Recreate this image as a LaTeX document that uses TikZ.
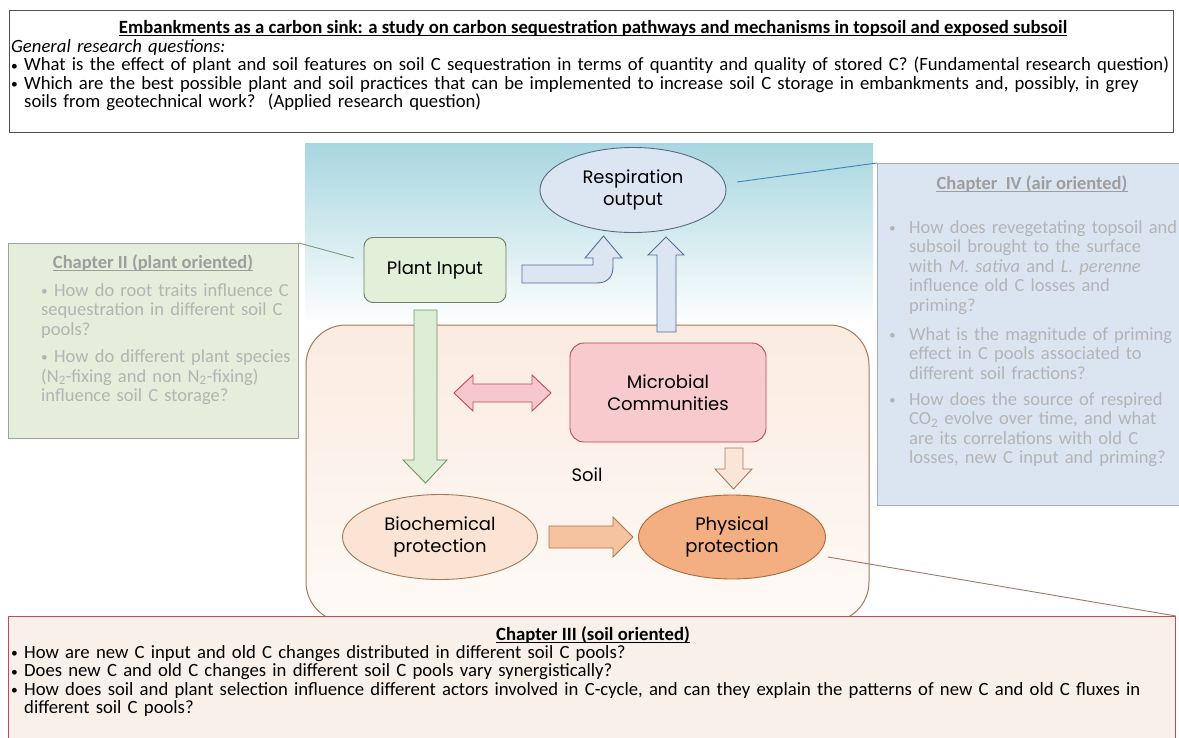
\documentclass[tikz,border=0pt]{standalone}
\usepackage{fontspec}
\usepackage{graphicx}
\setmainfont{Carlito}
\newfontfamily\gothic{Poppins}
\usetikzlibrary{shapes.geometric,calc}
\definecolor{topbord}{RGB}{80,80,80}
\definecolor{ctwofill}{RGB}{228,238,218}
\definecolor{ctwobord}{RGB}{160,165,155}
\definecolor{cfourfill}{RGB}{219,229,241}
\definecolor{cfourbord}{RGB}{165,175,190}
\definecolor{fadetxt}{RGB}{180,180,180}
\definecolor{fadetitle}{RGB}{158,158,158}
\definecolor{cthreefill}{RGB}{250,240,234}
\definecolor{cthreebord}{RGB}{200,70,90}
\definecolor{skytop}{RGB}{168,214,224}
\definecolor{soiltop}{RGB}{251,235,224}
\definecolor{soilbot}{RGB}{253,250,247}
\definecolor{soilbord}{RGB}{165,120,95}
\definecolor{plantfill}{RGB}{226,239,217}
\definecolor{plantbord}{RGB}{110,125,100}
\definecolor{respfill}{RGB}{220,230,242}
\definecolor{respbord}{RGB}{90,105,130}
\definecolor{microfill}{RGB}{247,202,205}
\definecolor{microbord}{RGB}{190,70,85}
\definecolor{biofill}{RGB}{251,228,212}
\definecolor{biobord}{RGB}{160,120,90}
\definecolor{physfill}{RGB}{243,175,130}
\definecolor{physbord}{RGB}{170,105,60}
\definecolor{garrowfill}{RGB}{222,238,214}
\definecolor{garrowbord}{RGB}{110,150,95}
\definecolor{barrowfill}{RGB}{220,230,242}
\definecolor{barrowbord}{RGB}{80,110,150}
\definecolor{parrowfill}{RGB}{246,200,205}
\definecolor{parrowbord}{RGB}{195,70,90}
\definecolor{oarrowfill}{RGB}{245,195,160}
\definecolor{oarrowbord}{RGB}{175,115,70}
\definecolor{darrowfill}{RGB}{251,229,214}
\definecolor{darrowbord}{RGB}{160,125,95}
\definecolor{linegreen}{RGB}{130,150,120}
\definecolor{lineblue}{RGB}{60,130,190}
\definecolor{linebrown}{RGB}{160,120,100}
\newcommand{\bodyfs}{\fontsize{18.7}{18.6}\selectfont}
\newcommand{\chapfs}{\fontsize{18.5}{19.5}\selectfont}
\newcommand{\gfs}{\gothic\fontsize{18}{22}\selectfont}
\newcommand{\dotb}{\raisebox{0.6pt}{\scalebox{0.72}{\textbullet}}}
\newlength{\bind}
\newcommand{\bitem}[1]{\noindent\makebox[\bind][l]{\dotb}\parbox[t]{\dimexpr\hsize-\bind\relax}{\raggedright #1}\par}
\newcommand{\bmark}{\makebox[13pt][l]{\dotb}}
\tikzset{
  frame/.style={line width=0.9pt, anchor=north west, inner sep=0pt},
  txtblk/.style={anchor=north west, inner sep=0pt},
  ttl/.style={anchor=base, inner sep=0pt},
  uline/.style={line width=0.9pt},
  gnode/.style={font=\gfs, align=center, line width=0.9pt, inner sep=0pt},
  blockarrow/.style={line width=0.9pt, line join=miter},
  callout/.style={line width=0.9pt}
}
\begin{document}
\begin{tikzpicture}[x=1pt,y=-1pt]
\useasboundingbox (0,0) rectangle (1179,737);
\fill[white] (0,0) rectangle (1179,737);

% ---------- top box
\node[frame, draw=topbord, fill=white, minimum width=1164pt, minimum height=122pt] (topbox) at (9,10) {};
\node[ttl, font=\bodyfs\bfseries] (toptitle) at (593,33)
  {Embankments as a carbon sink: a study on carbon sequestration pathways and mechanisms in topsoil and exposed subsoil};
\draw[uline] ([yshift=-2.6pt]toptitle.base west) -- ([yshift=-2.6pt]toptitle.base east);
\node[txtblk, text width=1166pt, font=\bodyfs] (topbody) at (11,39)
  {\setlength{\bind}{13pt}\noindent\textit{General research questions:}\par
   \bitem{What is the effect of plant and soil features on soil C sequestration in terms of quantity and quality of stored C? (Fundamental research question)}
   \bitem{Which are the best possible plant and soil practices that can be implemented to increase soil C storage in embankments and, possibly, in grey\\ soils from geotechnical work?\ \ (Applied research question)}};

% ---------- sky and soil
\shade[top color=skytop, bottom color=white] (305,143) rectangle (873,325);
\draw[soilbord, line width=1pt, rounded corners=40pt, top color=soiltop, bottom color=soilbot] (306,325) rectangle (869,622);

% ---------- chapter II
\node[frame, draw=ctwobord, fill=ctwofill, minimum width=290pt, minimum height=195pt] (ch2) at (8,243) {};
\node[ttl, font=\chapfs\bfseries, text=fadetitle] (ch2title) at (153,268)
  {Chapter II (plant oriented)};
\draw[uline, fadetitle] ([yshift=-2.6pt]ch2title.base west) -- ([yshift=-2.6pt]ch2title.base east);
\node[txtblk, text width=256pt, font=\chapfs, text=fadetxt] (ch2body) at (41,283)
  {\noindent\bmark How do root traits influence C\\ sequestration in different soil C\\ pools?\par
   \vspace{8pt}%
   \noindent\bmark How do different plant species\\ (N\textsubscript{2}-fixing and non N\textsubscript{2}-fixing)\\ influence soil C storage?\par};

% ---------- chapter IV
\node[frame, draw=cfourbord, fill=cfourfill, minimum width=310pt, minimum height=342pt] (ch4) at (877,163) {};
\node[ttl, font=\chapfs\bfseries, text=fadetitle] (ch4title) at (1032,189)
  {Chapter\ \ IV (air oriented)};
\draw[uline, fadetitle] ([yshift=-2.6pt]ch4title.base west) -- ([yshift=-2.6pt]ch4title.base east);
\node[txtblk, text width=300pt, font=\chapfs, text=fadetxt] (ch4body) at (889,220)
  {\setlength{\bind}{20pt}%
   \bitem{How does revegetating topsoil and\\ subsoil brought to the surface\\ with \textit{M. sativa} and \textit{L. perenne}\\ influence old C losses and\\ priming?}
   \vspace{12pt}%
   \bitem{What is the magnitude of priming\\ effect in C pools associated to\\ different soil fractions?}
   \vspace{12pt}%
   \bitem{How does the source of respired\\ CO\textsubscript{2} evolve over time, and what\\ are its correlations with old C\\ losses, new C input and priming?}};

% ---------- block arrows
\filldraw[blockarrow, draw=garrowbord, fill=garrowfill]
  (414,310) -- (437,310) -- (437,460) -- (447,460) -- (425.5,483) -- (403,460) -- (414,460) -- cycle;
\filldraw[blockarrow, draw=barrowbord, fill=barrowfill]
  (657,332) -- (657,255) -- (648,255) -- (666,237) -- (684,255) -- (676,255) -- (676,332) -- cycle;
\filldraw[blockarrow, draw=barrowbord, fill=barrowfill]
  (522,265) -- (593,265) -- (593,258) -- (585,258) -- (603.5,236) -- (622,258) -- (613,258) -- (613,267)
  .. controls (613,277) and (607,283) .. (597,283) -- (522,283) -- cycle;
\filldraw[blockarrow, draw=parrowbord, fill=parrowfill]
  (454,393) -- (473,375) -- (473,384) -- (532,384) -- (532,375) -- (551,393) -- (532,411) -- (532,402) -- (473,402) -- (473,411) -- cycle;
\filldraw[blockarrow, draw=darrowbord, fill=darrowfill]
  (725,448) -- (743,448) -- (743,469) -- (752,469) -- (733.5,489) -- (715,469) -- (725,469) -- cycle;
\filldraw[blockarrow, draw=oarrowbord, fill=oarrowfill]
  (549,526) -- (613,526) -- (613,517) -- (633,537) -- (613,557) -- (613,548) -- (549,548) -- cycle;

% ---------- diagram nodes
\node[gnode, ellipse, draw=respbord, fill=respfill, minimum width=186pt, minimum height=85pt] (resp) at (633,190) {Respiration\\output};
\node[gnode, draw=plantbord, fill=plantfill, rounded corners=9pt, minimum width=142pt, minimum height=65pt] (plant) at (435,270) {Plant Input};
\node[gnode, draw=microbord, fill=microfill, rounded corners=14pt, minimum width=196pt, minimum height=99pt] (micro) at (668,392.5) {Microbial\\Communities};
\node[gnode, ellipse, draw=biobord, fill=biofill, minimum width=195pt, minimum height=85pt] (bio) at (440,537) {Biochemical\\protection};
\node[gnode, ellipse, draw=physbord, fill=physfill, minimum width=187pt, minimum height=84pt] (phys) at (732,537) {Physical\\protection};
\node[font=\gfs, inner sep=0pt] (soil) at (587,475) {Soil};

% ---------- chapter III
\node[frame, draw=cthreebord, fill=cthreefill, line width=1pt, minimum width=1167pt, minimum height=140pt] (ch3) at (8,616) {};
\node[ttl, font=\bodyfs\bfseries] (ch3title) at (593,640)
  {Chapter III (soil oriented)};
\draw[uline] ([yshift=-2.6pt]ch3title.base west) -- ([yshift=-2.6pt]ch3title.base east);
\node[txtblk, text width=1160pt, font=\bodyfs] (ch3body) at (11,645)
  {\setlength{\bind}{13pt}%
   \bitem{How are new C input and old C changes distributed in different soil C pools?}
   \bitem{Does new C and old C changes in different soil C pools vary synergistically?}
   \bitem{How does soil and plant selection influence different actors involved in C-cycle, and can they explain the patterns of new C and old C fluxes in\\ different soil C pools?}};

% ---------- callout lines
\coordinate (ctwoend) at (354,258);
\draw[callout, linegreen] (ch2.north east) -- (ctwoend);
\coordinate (respend) at (737,182);
\draw[callout, lineblue] (respend) -- (ch4.north west);
\coordinate (physend) at (828,557);
\draw[callout, linebrown] (physend) -- (ch3.north east);
\end{tikzpicture}
\end{document}
